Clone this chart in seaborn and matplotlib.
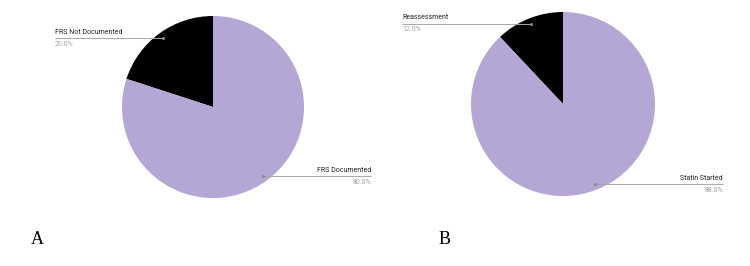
import numpy as np
import matplotlib
matplotlib.use("Agg")
import matplotlib.pyplot as plt
import seaborn as sns

sns.set_theme(style="white")
plt.rcParams['font.family'] = ['Roboto', 'DejaVu Sans']

# Data
panel_letters = ["A", "B"]
labels_a = ["FRS Not Documented", "FRS Documented"]
values_a = [20.0, 80.0]
labels_b = ["Reassessment", "Statin Started"]
values_b = [12.0, 88.0]
colors = ["#000000", "#b4a7d6"]

W, H = 750, 266
fig = plt.figure(figsize=(W / 100, H / 100), dpi=100)
fig.patch.set_facecolor("white")


def draw_panel(cx, cy, r, labels, values, lab_x, letter, letter_x):
    # cx, cy in pixels from top-left; r in pixels
    ax = fig.add_axes([(cx - r) / W, (H - cy - r) / H, 2 * r / W, 2 * r / H])
    wedges, _ = ax.pie(values, colors=colors, startangle=90, counterclock=True,
                       radius=1.0, wedgeprops=dict(linewidth=0))
    ax.set_xlim(-1, 1)
    ax.set_ylim(-1, 1)
    ax.set_aspect("auto")
    ax.axis("off")
    total = sum(values)
    start = 90.0
    for i, (lab, v) in enumerate(zip(labels, values)):
        ang = start + 360.0 * v / total / 2
        start += 360.0 * v / total
        rad = np.deg2rad(ang)
        px, py = 0.94 * np.cos(rad), 0.94 * np.sin(rad)
        lx = (lab_x[i] - cx) / r
        ax.plot([lx, px], [py, py], color="#a8a8a8", lw=0.7, clip_on=False,
                solid_capstyle="butt")
        ax.plot([px], [py], marker="o", ms=1.2, color="#888888", clip_on=False)
        ha = "left" if lx < px else "right"
        ax.text(lx, py + 0.025, lab, ha=ha, va="bottom", fontsize=5,
                color="#222222", clip_on=False)
        ax.text(lx, py - 0.03, f"{v:.1f}%", ha=ha, va="top", fontsize=5,
                color="#a0a0a0", clip_on=False)
    fig.text(letter_x / W, 1 - 239 / H, letter, ha="left", va="center",
             fontsize=13, family="Liberation Serif", color="black")


draw_panel(213, 107, 91, labels_a, values_a, [55, 371], panel_letters[0], 31)
draw_panel(563, 104, 92, labels_b, values_b, [402, 723], panel_letters[1], 439)

fig.savefig("out.png", dpi=100, facecolor="white")
